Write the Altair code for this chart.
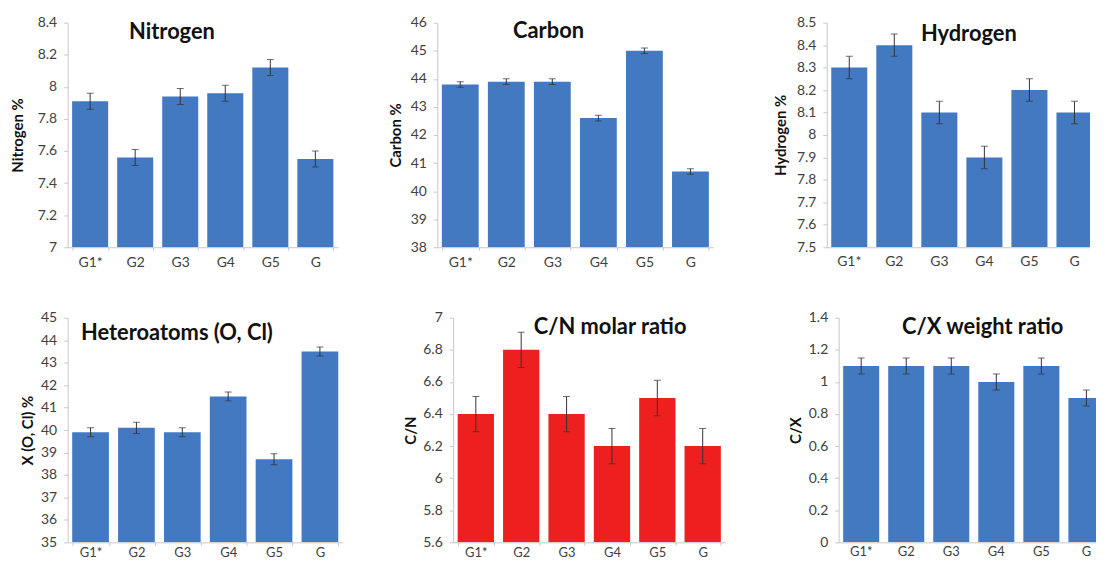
import altair as alt
import pandas as pd

groups = ["G1*", "G2", "G3", "G4", "G5", "G"]

nitrogen = [7.91, 7.56, 7.94, 7.96, 8.12, 7.55]
nitrogen_err = [0.05, 0.05, 0.05, 0.05, 0.05, 0.05]

carbon = [43.8, 43.9, 43.9, 42.6, 45.0, 40.7]
carbon_err = [0.1, 0.1, 0.1, 0.1, 0.1, 0.1]

hydrogen = [8.3, 8.4, 8.1, 7.9, 8.2, 8.1]
hydrogen_err = [0.05, 0.05, 0.05, 0.05, 0.05, 0.05]

hetero = [39.9, 40.1, 39.9, 41.5, 38.7, 43.5]
hetero_err = [0.2, 0.25, 0.2, 0.2, 0.25, 0.2]

cn_ratio = [6.4, 6.8, 6.4, 6.2, 6.5, 6.2]
cn_err = [0.11, 0.11, 0.11, 0.11, 0.11, 0.11]

cx_ratio = [1.1, 1.1, 1.1, 1.0, 1.1, 0.9]
cx_err = [0.05, 0.05, 0.05, 0.05, 0.05, 0.05]

BLUE = "#4279c0"
RED = "#ee1f1f"
FONT = "Lato"
AXC = "#c8c8c8"
LABC = "#404040"


def panel(title, ytitle, vals, errs, lo, hi, step, color, W, H, L, T, B, d, tx, ty,
          xlabpad, xfs=14, xrange=None):
    n_ticks = int(round((hi - lo) / step)) + 1
    ticks = [round(lo + i * step, 3) for i in range(n_ticks)]
    df = pd.DataFrame({"g": groups, "v": vals, "e": errs})
    base = alt.Chart(df).transform_calculate(
        lo="datum.v - datum.e", hi="datum.v + datum.e"
    )
    if xrange is None:
        xscale = alt.Scale(paddingInner=0.2, paddingOuter=0.1)
        xaxis = alt.Axis(
            title=None, labelAngle=0, labelPadding=xlabpad, tickBand="extent",
            tickSize=3, tickColor=AXC, domainColor=AXC,
            labelFont=FONT, labelFontSize=xfs, labelColor=LABC,
        )
    else:
        xscale = alt.Scale(paddingInner=0.2, paddingOuter=0.1, range=[0, xrange])
        xaxis = None
    x = alt.X("g:N", sort=groups, scale=xscale, axis=xaxis)
    yscale = alt.Scale(domain=[lo, hi], zero=False, nice=False)
    yaxis = alt.Axis(
        title=ytitle, values=ticks, format="~g", grid=False,
        labelFont=FONT, labelFontSize=14, labelColor=LABC, labelPadding=7,
        labelOverlap=False, tickSize=4, tickColor=AXC, domainColor=AXC,
        titleFont=FONT, titleFontWeight="bold", titleFontSize=15, titleColor="#111111",
        titleX=-d, titleY=H / 2, titleAngle=270, titleAlign="center",
        titleBaseline="middle",
    )
    bars = base.mark_bar(color=color, clip=True).encode(
        x=x, y=alt.Y("v:Q", scale=yscale, axis=yaxis), y2=alt.datum(lo)
    )
    rule = base.mark_rule(color="#333333", strokeWidth=1, clip=True).encode(
        x=x, y=alt.Y("lo:Q", scale=yscale, axis=yaxis), y2="hi:Q"
    )
    cap_lo = base.mark_tick(color="#333333", size=7, thickness=1, orient="horizontal",
                            clip=True).encode(
        x=x, y=alt.Y("lo:Q", scale=yscale, axis=yaxis)
    )
    cap_hi = base.mark_tick(color="#333333", size=7, thickness=1, orient="horizontal",
                            clip=True).encode(
        x=x, y=alt.Y("hi:Q", scale=yscale, axis=yaxis)
    )
    ttl = alt.Chart(pd.DataFrame({"t": [title]})).mark_text(
        font=FONT, fontWeight="bold", fontSize=22, align="center", baseline="middle",
        color="#111111",
    ).encode(x=alt.value(tx), y=alt.value(ty), text="t:N")
    spacer_top = alt.Chart(pd.DataFrame({"t": [" "]})).mark_text(
        align="left", baseline="top", fontSize=10
    ).encode(x=alt.value(-L), y=alt.value(-T), text="t:N")
    spacer_bot = alt.Chart(pd.DataFrame({"t": [" "]})).mark_text(
        align="left", baseline="bottom", fontSize=10
    ).encode(x=alt.value(-L), y=alt.value(H + B), text="t:N")
    layers = [bars, rule, cap_lo, cap_hi, ttl, spacer_top, spacer_bot]
    if xrange is not None:
        baseline = alt.Chart(pd.DataFrame({"t": [0]})).mark_rule(
            color=AXC, strokeWidth=1
        ).encode(x=alt.value(0), x2=alt.value(W), y=alt.value(H + 0.5))
        labels = alt.Chart(df).mark_text(
            font=FONT, fontSize=xfs, color=LABC, baseline="top", align="center"
        ).encode(x=x, y=alt.value(H + 3 + xlabpad), text="g:N")
        layers += [baseline, labels]
    return alt.layer(*layers).properties(width=W, height=H)


H1 = 226
H2 = 226

row1 = alt.hconcat(
    panel("Nitrogen", "Nitrogen %", nitrogen, nitrogen_err, 7.0, 8.4, 0.2, BLUE,
          272, H1, 60, 13, 36, 50, 105, 9, 5),
    panel("Carbon", "Carbon %", carbon, carbon_err, 38, 46, 1, BLUE,
          278, H1, 100, 13, 36, 42, 112, 8, 5),
    panel("Hydrogen", "Hydrogen %", hydrogen, hydrogen_err, 7.5, 8.5, 0.1, BLUE,
          265, H1, 114, 13, 36, 47, 143, 11, 5, xrange=272),
    spacing=0,
)

row2 = alt.hconcat(
    panel("Heteroatoms (O, Cl)", "X (O, Cl) %", hetero, hetero_err, 35, 45, 1, BLUE,
          277, H2, 54, 35, 14, 40, 110, 15, 1, xfs=13),
    panel("C/N molar ratio", "C/N", cn_ratio, cn_err, 5.6, 7.0, 0.2, RED,
          274, H2, 111, 35, 14, 43, 158, 9, 1, xfs=13),
    panel("C/X weight ratio", "C/X", cx_ratio, cx_err, 0, 1.4, 0.2, BLUE,
          259, H2, 114, 35, 14, 43, 145, 9, 1, xfs=13, xrange=272),
    spacing=0,
)

chart = alt.vconcat(row1, row2, spacing=0).properties(
    padding=0, background="white"
).configure_view(stroke=None)

chart.save("out.html", embed_options={"renderer": "svg", "actions": False})
